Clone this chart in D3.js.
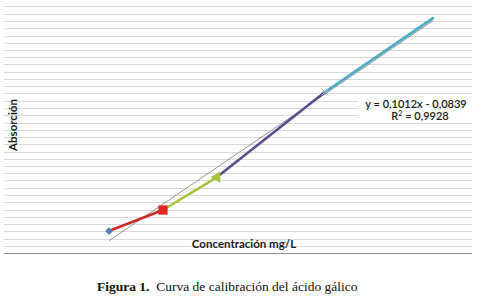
<!DOCTYPE html>
<html>
<head>
<meta charset="utf-8">
<script src="https://cdn.jsdelivr.net/npm/d3@7"></script>
<style>
  body { margin: 0; background: #fff; }
  svg { display: block; }
</style>
</head>
<body>
<svg id="chart" width="478" height="304"></svg>
<script>
// Concentraciones (mg/L) y absorbancias
const concentracion = [2.5, 7.5, 12.5, 22.5, 32.5];
const absorcion = [0.303, 0.593, 1.048, 2.22, 3.24];
// colores de cada tramo (serie) y su marcador
const serieColor = ['#4a7ebb', '#cc2b25', '#a8c43c', '#5f4b8b', '#4bacc6'];
const marcadores = ['diamond', 'square', 'triangle', 'cross', 'none'];
// línea de tendencia
const pendiente = 0.1012;
const intercepto = -0.0839;
const r2 = 0.9928;
const yTicks = d3.range(0, 3.41, 0.1);

const svg = d3.select('#chart');
const plot = { left: 4, right: 472, top: 6.5, bottom: 253 };

const x = d3.scaleLinear().domain([0, 35]).range([82, 460]);
const y = d3.scaleLinear().domain([0, 3.4]).range([plot.bottom, plot.top]);

// gridlines
svg.append('g')
  .attr('class', 'grid')
  .selectAll('line')
  .data(yTicks.slice(1))
  .join('line')
  .attr('x1', plot.left)
  .attr('x2', plot.right)
  .attr('y1', (d) => Math.round(y(d)) + 0.5)
  .attr('y2', (d) => Math.round(y(d)) + 0.5)
  .attr('stroke', '#d9d9d9')
  .attr('stroke-width', 1);

// x axis line
svg.append('line')
  .attr('x1', plot.left)
  .attr('x2', plot.right)
  .attr('y1', plot.bottom + 0.5)
  .attr('y2', plot.bottom + 0.5)
  .attr('stroke', '#8c8c8c')
  .attr('stroke-width', 1.2);

// trendline
const trend = [concentracion[0], concentracion[concentracion.length - 1]].map((c) => [c, pendiente * c + intercepto]);
svg.append('path')
  .datum(trend)
  .attr('fill', 'none')
  .attr('stroke', '#7a7a7a')
  .attr('stroke-width', 0.8)
  .attr('d', d3.line().x((d) => x(d[0])).y((d) => y(d[1])));

// segments: each series runs from the previous point to its own point
const line = d3.line().x((d) => x(d[0])).y((d) => y(d[1]));
for (let i = 1; i < concentracion.length; i += 1) {
  svg.append('path')
    .datum([[concentracion[i - 1], absorcion[i - 1]], [concentracion[i], absorcion[i]]])
    .attr('fill', 'none')
    .attr('stroke', serieColor[i])
    .attr('stroke-width', 2.6)
    .attr('stroke-linecap', 'round')
    .attr('d', line);
}

// markers
const symbolType = {
  diamond: d3.symbolSquare,
  square: d3.symbolSquare,
  triangle: d3.symbolTriangle,
  cross: d3.symbolTimes,
};
const symbolSize = { diamond: 30, square: 85, triangle: 55, cross: 30 };
const symbolRot = { diamond: 45, square: 0, triangle: -90, cross: 0 };
concentracion.forEach((c, i) => {
  const m = marcadores[i];
  if (m === 'none') return;
  const g = svg.append('path')
    .attr('d', d3.symbol(symbolType[m], symbolSize[m])())
    .attr('transform', `translate(${x(c)},${y(absorcion[i])}) rotate(${symbolRot[m]})`);
  if (m === 'cross') {
    g.attr('fill', 'none').attr('stroke', '#9aa6d6').attr('stroke-width', 1);
  } else {
    g.attr('fill', m === 'square' ? '#e0261e' : serieColor[i]);
  }
});

// equation box
const eq = svg.append('g').attr('transform', 'translate(416, 0)');
eq.append('rect')
  .attr('x', -58)
  .attr('y', 95)
  .attr('width', 116)
  .attr('height', 28)
  .attr('fill', '#fff');
eq.append('text')
  .attr('text-anchor', 'middle')
  .attr('y', 107.5)
  .attr('font-family', 'Lato, "Open Sans", sans-serif')
  .attr('font-size', 11)
  .attr('font-weight', 600)
  .attr('fill', '#1a1a1a')
  .text(`y = ${d3.format('.4f')(pendiente).replace('.', ',')}x - ${d3.format('.4f')(-intercepto).replace('.', ',')}`);
const r2Text = eq.append('text')
  .attr('text-anchor', 'middle')
  .attr('x', 4)
  .attr('y', 119.5)
  .attr('font-family', 'Lato, "Open Sans", sans-serif')
  .attr('font-size', 11)
  .attr('font-weight', 600)
  .attr('fill', '#1a1a1a');
r2Text.append('tspan').text('R');
r2Text.append('tspan').attr('dy', -4).attr('font-size', 7).text('2');
r2Text.append('tspan').attr('dy', 4).text(` = ${String(r2).replace('.', ',')}`);

// axis titles
svg.append('text')
  .attr('transform', 'translate(17, 125) rotate(-90)')
  .attr('text-anchor', 'middle')
  .attr('font-family', 'Lato, "Open Sans", sans-serif')
  .attr('font-size', 11.5)
  .attr('font-weight', 700)
  .attr('fill', '#1a1a1a')
  .text('Absorción');

svg.append('text')
  .attr('x', 244)
  .attr('y', 248)
  .attr('text-anchor', 'middle')
  .attr('font-family', 'Lato, "Open Sans", sans-serif')
  .attr('font-size', 11.5)
  .attr('font-weight', 700)
  .attr('fill', '#1a1a1a')
  .text('Concentración mg/L');

// caption
const cap = svg.append('text')
  .attr('x', 97)
  .attr('y', 291)
  .attr('font-family', '"Liberation Serif", "Times New Roman", serif')
  .attr('font-size', 13.5)
  .attr('fill', '#111')
  .attr('xml:space', 'preserve');
cap.append('tspan').attr('font-weight', 700).text('Figura 1.');
cap.append('tspan').text('  Curva de calibración del ácido gálico');
</script>
</body>
</html>
